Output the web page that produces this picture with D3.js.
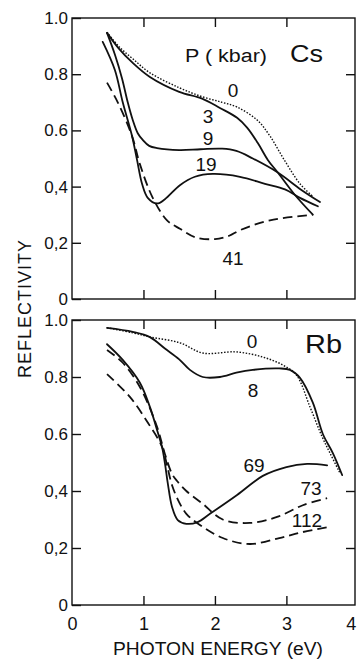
<!DOCTYPE html>
<html>
<head>
<meta charset="utf-8">
<script src="https://cdn.jsdelivr.net/npm/d3@7"></script>
<style>
  body { margin: 0; background: #fff; }
  svg { display: block; font-family: "Liberation Sans", Arial, sans-serif; }
</style>
</head>
<body>
<div id="chart"></div>
<script>
// reflectivity vs photon energy, Cs (top) and Rb (bottom) under pressure
// each series: [energy eV, reflectivity]
const cs0 = [[0.49,0.95],[0.65,0.90],[0.85,0.855],[1.09,0.805],[1.5,0.752],[1.82,0.72],[2.1,0.70],[2.31,0.683],[2.59,0.637],[2.77,0.58],[2.97,0.495],[3.19,0.41],[3.37,0.365]];
const cs3 = [[0.49,0.947],[0.65,0.893],[0.85,0.84],[1.09,0.79],[1.5,0.737],[1.82,0.713],[2.07,0.68],[2.31,0.645],[2.45,0.61],[2.6,0.555],[2.74,0.495],[2.88,0.45],[3.12,0.37],[3.37,0.30]];
const cs9 = [[0.49,0.947],[0.6,0.87],[0.7,0.785],[0.78,0.70],[0.85,0.637],[0.92,0.59],[0.99,0.566],[1.08,0.545],[1.19,0.537],[1.5,0.53],[1.8,0.533],[2.1,0.535],[2.3,0.527],[2.53,0.50],[2.88,0.45],[3.2,0.39],[3.47,0.345]];
const cs19 = [[0.43,0.915],[0.6,0.815],[0.71,0.70],[0.84,0.58],[0.91,0.495],[0.98,0.41],[1.06,0.36],[1.19,0.34],[1.3,0.355],[1.51,0.405],[1.72,0.435],[1.97,0.445],[2.35,0.435],[2.7,0.41],[2.98,0.39],[3.19,0.36],[3.44,0.33]];
const cs41 = [[0.49,0.77],[0.64,0.70],[0.84,0.58],[0.95,0.48],[1.13,0.36],[1.33,0.28],[1.51,0.25],[1.72,0.22],[2.0,0.213],[2.2,0.225],[2.35,0.245],[2.77,0.28],[3.37,0.30]];

const rb0 = [[0.49,0.973],[0.85,0.955],[1.1,0.94],[1.51,0.92],[1.83,0.884],[2.3,0.888],[2.67,0.87],[2.95,0.842],[3.14,0.807],[3.33,0.695],[3.5,0.59],[3.61,0.533],[3.75,0.463]];
const rb8 = [[0.49,0.972],[0.85,0.958],[1.09,0.94],[1.3,0.9],[1.5,0.862],[1.65,0.825],[1.83,0.80],[2.07,0.80],[2.3,0.815],[2.53,0.825],[2.9,0.83],[3.05,0.825],[3.19,0.797],[3.37,0.71],[3.51,0.60],[3.65,0.533],[3.78,0.456]];
const rb69 = [[0.49,0.915],[0.71,0.86],[0.95,0.78],[1.09,0.695],[1.19,0.614],[1.26,0.554],[1.30,0.498],[1.34,0.428],[1.40,0.344],[1.48,0.298],[1.6,0.285],[1.75,0.29],[1.93,0.32],[2.31,0.386],[2.67,0.453],[3.0,0.484],[3.29,0.495],[3.57,0.49]];
const rb73 = [[0.49,0.895],[0.71,0.85],[0.95,0.765],[1.19,0.625],[1.3,0.53],[1.4,0.46],[1.47,0.435],[1.6,0.40],[1.83,0.355],[2.11,0.30],[2.49,0.288],[2.87,0.309],[3.23,0.35],[3.57,0.375]];
const rb112 = [[0.49,0.81],[0.81,0.73],[1.06,0.64],[1.26,0.555],[1.33,0.49],[1.4,0.42],[1.5,0.36],[1.6,0.32],[1.75,0.288],[2.11,0.235],[2.49,0.214],[2.9,0.235],[3.23,0.256],[3.6,0.274]];

const yTicks = [0, 0.2, 0.4, 0.6, 0.8, 1.0];
const yTickLabels = ["0", "0,2", "0,4", "0.6", "0.8", "1.0"];
const xTicks = [0, 1, 2, 3, 4];

const W = 357, H = 659;
const svg = d3.select("#chart").append("svg")
    .attr("width", W)
    .attr("height", H);

const x = d3.scaleLinear().domain([0, 3.96]).range([72, 355]);
const yTop = d3.scaleLinear().domain([0, 1]).range([299, 18]);
const yBot = d3.scaleLinear().domain([0, 1]).range([605, 320]);

const ink = "#111";

function panel(y, series) {
  const g = svg.append("g");
  const [y0, y1] = y.range();

  // frame
  g.append("rect")
      .attr("x", x.range()[0]).attr("y", y1)
      .attr("width", x.range()[1] - x.range()[0]).attr("height", y0 - y1)
      .attr("fill", "none").attr("stroke", ink).attr("stroke-width", 1.4);

  // left axis with labels, inward ticks
  const left = g.append("g")
      .attr("transform", `translate(${x.range()[0]},0)`)
      .call(d3.axisLeft(y).tickValues(yTicks).tickSize(-9).tickPadding(4)
        .tickFormat((d, i) => yTickLabels[i]));
  // right, top, bottom tick marks
  const right = g.append("g")
      .attr("transform", `translate(${x.range()[1]},0)`)
      .call(d3.axisRight(y).tickValues(yTicks.slice(1, 5)).tickSize(-9).tickFormat(""));
  const top = g.append("g")
      .attr("transform", `translate(0,${y1})`)
      .call(d3.axisTop(x).tickValues([1, 2, 3]).tickSize(-9).tickFormat(""));
  const bottom = g.append("g")
      .attr("transform", `translate(0,${y0})`)
      .call(d3.axisBottom(x).tickValues([1, 2, 3]).tickSize(-9).tickFormat(""));

  [left, right, top, bottom].forEach(a => {
    a.select(".domain").remove();
    a.selectAll("line").attr("stroke", ink).attr("stroke-width", 1.4);
    a.selectAll("text").attr("fill", ink).style("font-size", "17px")
      .style("font-family", "Liberation Sans, Arial, sans-serif");
  });

  const line = d3.line()
      .x(d => x(d[0]))
      .y(d => y(d[1]))
      .curve(d3.curveCatmullRom.alpha(0.5));

  series.forEach(s => {
    g.append("path")
        .datum(s.data)
        .attr("d", line)
        .attr("fill", "none")
        .attr("stroke", ink)
        .attr("stroke-width", s.w)
        .attr("stroke-dasharray", s.dash)
        .attr("stroke-linecap", s.dash ? "butt" : "round");
  });
  return g;
}

const dotted = "1.5 1.6", dashed = "9.5 5";

panel(yTop, [
  {data: cs0, dash: dotted, w: 1.4},
  {data: cs3, dash: null, w: 1.8},
  {data: cs9, dash: null, w: 1.8},
  {data: cs19, dash: null, w: 1.8},
  {data: cs41, dash: dashed, w: 1.8}
]);

const bot = panel(yBot, [
  {data: rb0, dash: dotted, w: 1.4},
  {data: rb8, dash: null, w: 1.8},
  {data: rb69, dash: null, w: 1.8},
  {data: rb73, dash: dashed, w: 1.8},
  {data: rb112, dash: dashed, w: 1.8}
]);

// x tick labels on bottom panel only
const xl = bot.append("g")
    .attr("transform", `translate(0,${yBot.range()[0]})`)
    .call(d3.axisBottom(d3.scaleLinear().domain([0, 4]).range([x(0), x(4)]))
      .tickValues(xTicks).tickSize(0).tickPadding(12).tickFormat(d3.format("d")));
xl.select(".domain").remove();
xl.selectAll("text").attr("fill", ink).style("font-size", "18px")
  .style("font-family", "Liberation Sans, Arial, sans-serif");
// the last label sits on the page edge; nudge it inside
xl.selectAll(".tick text").filter(d => d === 4).attr("x", -7);

// annotations
function label(txt, cx, by, size, anchor, len) {
  const t = svg.append("text")
      .attr("x", cx).attr("y", by)
      .attr("text-anchor", anchor || "middle")
      .attr("fill", ink)
      .style("font-size", size + "px")
      .text(txt);
  if (len) t.attr("textLength", len).attr("lengthAdjust", "spacingAndGlyphs");
  return t;
}

label("P ( kbar)", 185, 62, 18, "start", 82);
label("Cs", 290, 62, 23, "start", 33);
label("0", 233, 97, 19);
label("3", 208, 123, 19);
label("9", 208, 145, 19);
label("19", 206, 171, 19);
label("41", 233, 265, 19);

label("0", 252, 348, 19);
label("Rb", 305, 353, 26, "start", 37);
label("8", 253, 397, 19);
label("69", 254, 472, 19);
label("73", 311, 495, 19);
label("112", 307, 527, 19);

// axis titles
svg.append("text")
    .attr("transform", "translate(31,309) rotate(-90)")
    .attr("text-anchor", "middle")
    .attr("fill", ink)
    .style("font-size", "18px")
    .attr("textLength", 138).attr("lengthAdjust", "spacing")
    .text("REFLECTIVITY");

label("PHOTON ENERGY (eV)", 218, 655, 18, "middle", 210);
</script>
</body>
</html>
